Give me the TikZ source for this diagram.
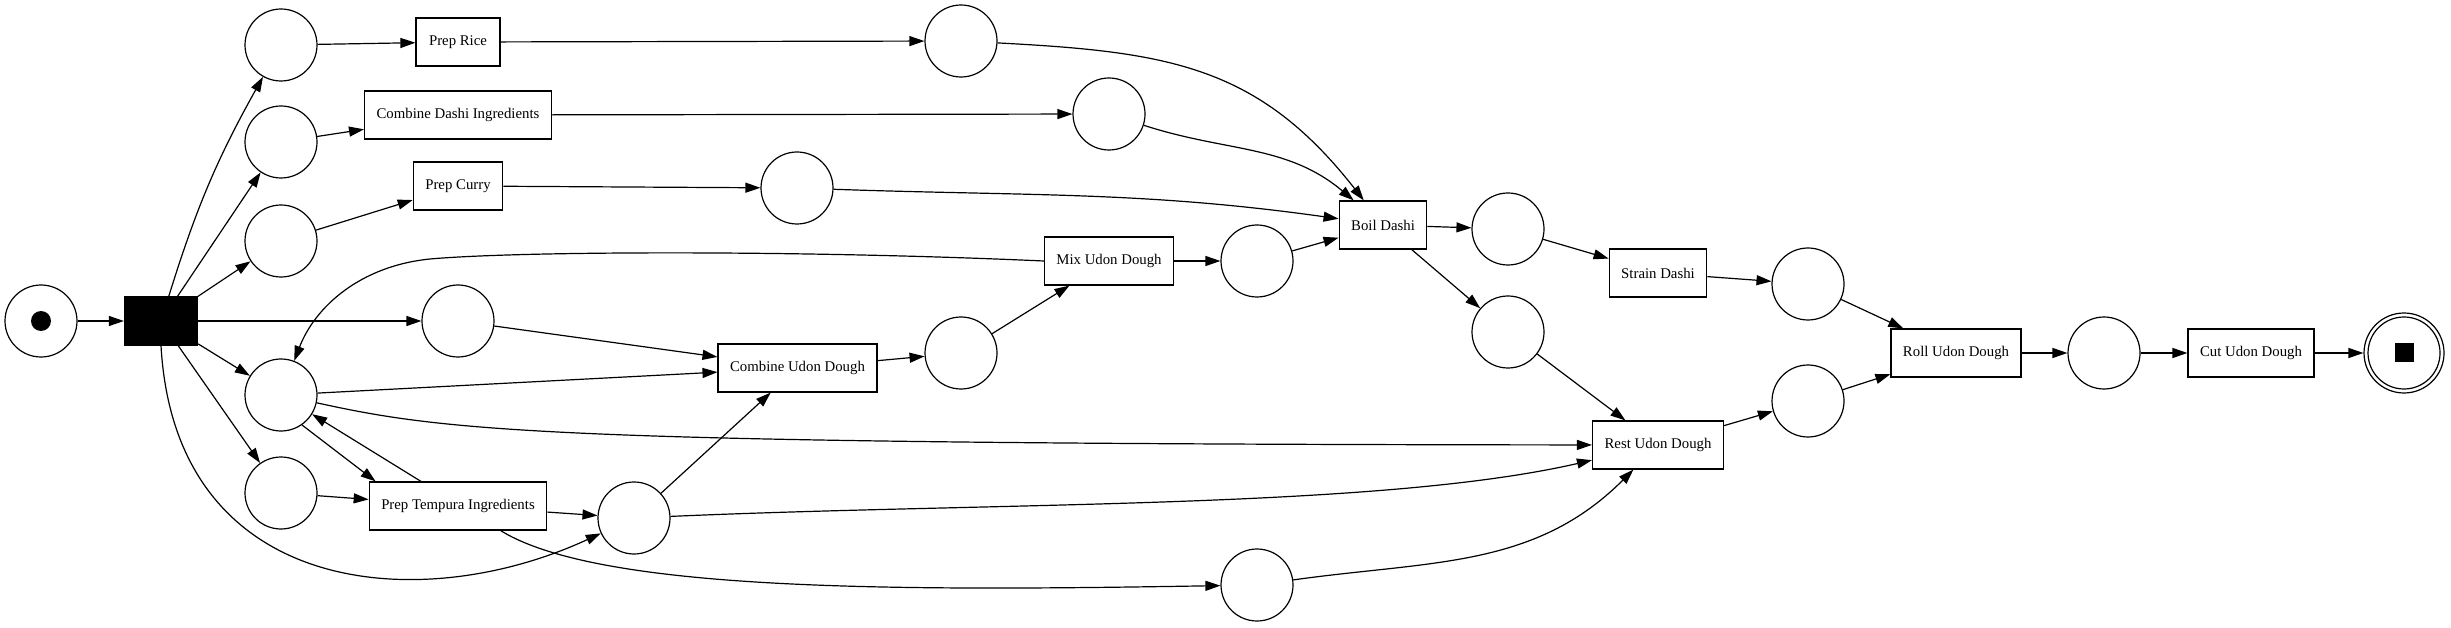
\documentclass[tikz,border=0pt]{standalone}
\usepackage{fontspec}
\setmainfont{Liberation Serif}
\usetikzlibrary{arrows.meta}

% Places, transitions and arcs of the net
\tikzset{
  place/.style={circle, draw, minimum size=72pt, inner sep=0pt},
  trans/.style={rectangle, draw, minimum width=84pt, minimum height=48pt,
    inner xsep=12pt, font=\fontsize{14.8}{17}\selectfont},
  arc/.style={-{Triangle[length=15pt,width=10pt]}},
}

\begin{document}
\begin{tikzpicture}[x=1pt, y=1pt, line width=1.2pt]

    % Fix the size of the picture
    \useasboundingbox (0,0) rectangle (2451,627);

    % Start place with its token, and the black start transition
    \node[place] (pstart) at (41,306) {};
    \node[circle, fill, minimum size=20pt, inner sep=0pt] (starttok) at (pstart) {};
    \node[trans, fill=black, minimum width=73pt] (tstart) at (161,306) {};

    % First column of places
    \node[place] (p1) at (281,582) {};
    \node[place] (p2) at (281,485) {};
    \node[place] (p3) at (281,386) {};
    \node[place] (p4) at (458,306) {};
    \node[place] (p5) at (281,232) {};
    \node[place] (p6) at (281,134) {};

    % Preparation steps
    \node[trans] (rice) at (458,585) {Prep Rice};
    \node[trans] (dashiing) at (458,512) {Combine Dashi Ingredients};
    \node[trans] (curry) at (458,441) {Prep Curry};
    \node[trans] (tempura) at (458,121) {Prep Tempura Ingredients};
    \node[place] (p7) at (634,109) {};

    % Middle part
    \node[trans] (combudon) at (797.5,259) {Combine Udon Dough};
    \node[place] (pcurry) at (797,439) {};
    \node[place] (price) at (961,586) {};
    \node[place] (pdashi) at (1109,513) {};
    \node[place] (pcomb) at (961,274) {};
    \node[trans] (mixudon) at (1109,366) {Mix Udon Dough};
    \node[place] (pmix) at (1257,366) {};
    \node[place] (pbottom) at (1257,42) {};

    % Dashi and dough
    \node[trans] (boil) at (1383,402) {Boil Dashi};
    \node[place] (pboil1) at (1508,398) {};
    \node[place] (pboil2) at (1508,295) {};
    \node[trans] (strain) at (1658,354) {Strain Dashi};
    \node[trans] (rest) at (1658,182) {Rest Udon Dough};
    \node[place] (pstrain) at (1808,343) {};
    \node[place] (prest) at (1808,226) {};

    % Last steps and the end place
    \node[trans] (roll) at (1956,274) {Roll Udon Dough};
    \node[place] (proll) at (2104,274) {};
    \node[trans] (cut) at (2251,274) {Cut Udon Dough};
    \node[place, minimum size=80pt] (pend) at (2404,274) {};
    \draw (pend) circle (36pt);
    \node[fill, minimum size=19pt, inner sep=0pt] (endtok) at (pend) {};

    % Arcs out of the start
    \draw[arc] (pstart) -- (tstart);
    \draw[arc] (tstart) to[bend left=6] (p1);
    \draw[arc] (tstart) -- (p2);
    \draw[arc] (tstart) -- (p3);
    \draw[arc] (tstart) -- (p4);
    \draw[arc] (tstart) -- (p5);
    \draw[arc] (tstart) -- (p6);
    \draw[arc] (tstart.south) .. controls (175,30) and (420,10) .. (p7);

    % Into the preparation steps
    \draw[arc] (p1) -- (rice);
    \draw[arc] (p2) -- (dashiing);
    \draw[arc] (p3) -- (curry);
    \draw[arc] (p6) -- (tempura);
    \draw[arc] (p5.-55) -- ([xshift=7pt]tempura.north west);
    \draw[arc] ([xshift=-37pt]tempura.north) -- (p5);

    % Out of the preparation steps
    \draw[arc] (rice) -- (price);
    \draw[arc] (dashiing) -- (pdashi);
    \draw[arc] (curry) -- (pcurry);
    \draw[arc] (tempura) -- (p7);
    \draw[arc] (tempura.-30) .. controls (600,35) and (900,36) .. (pbottom);

    % Udon dough
    \draw[arc] (p4) -- (combudon);
    \draw[arc] (p5) -- (combudon);
    \draw[arc] (p7) -- (combudon);
    \draw[arc] (combudon) -- (pcomb);
    \draw[arc] (pcomb) -- (mixudon);
    \draw[arc] (mixudon) -- (pmix);
    \draw[arc] (mixudon.west) .. controls (800,377) and (520,376) .. (430,368)
        .. controls (360,361) and (315,320) .. (p5);

    % Into Boil Dashi
    \draw[arc] (price) to[out=-3, in=128, looseness=1.1] (boil);
    \draw[arc] (pdashi) to[out=-18, in=140] (boil);
    \draw[arc] (pcurry) to[out=-2, in=172] (boil);
    \draw[arc] (pmix) -- (boil);
    \draw[arc] (boil) -- (pboil1);
    \draw[arc] (boil) -- (pboil2);

    % Into Rest Udon Dough
    \draw[arc] (p5) .. controls (450,195) and (550,183) .. (rest);
    \draw[arc] (p7) .. controls (1000,125) and (1380,118) .. (rest);
    \draw[arc] (pbottom) to[out=8, in=-135] (rest);
    \draw[arc] (pboil2) -- (rest);

    % Strain, rest, roll and cut
    \draw[arc] (pboil1) -- (strain);
    \draw[arc] (strain) -- (pstrain);
    \draw[arc] (rest) -- (prest);
    \draw[arc] (pstrain) -- (roll);
    \draw[arc] (prest) -- (roll);
    \draw[arc] (roll) -- (proll);
    \draw[arc] (proll) -- (cut);
    \draw[arc] (cut) -- (pend);

\end{tikzpicture}
\end{document}
